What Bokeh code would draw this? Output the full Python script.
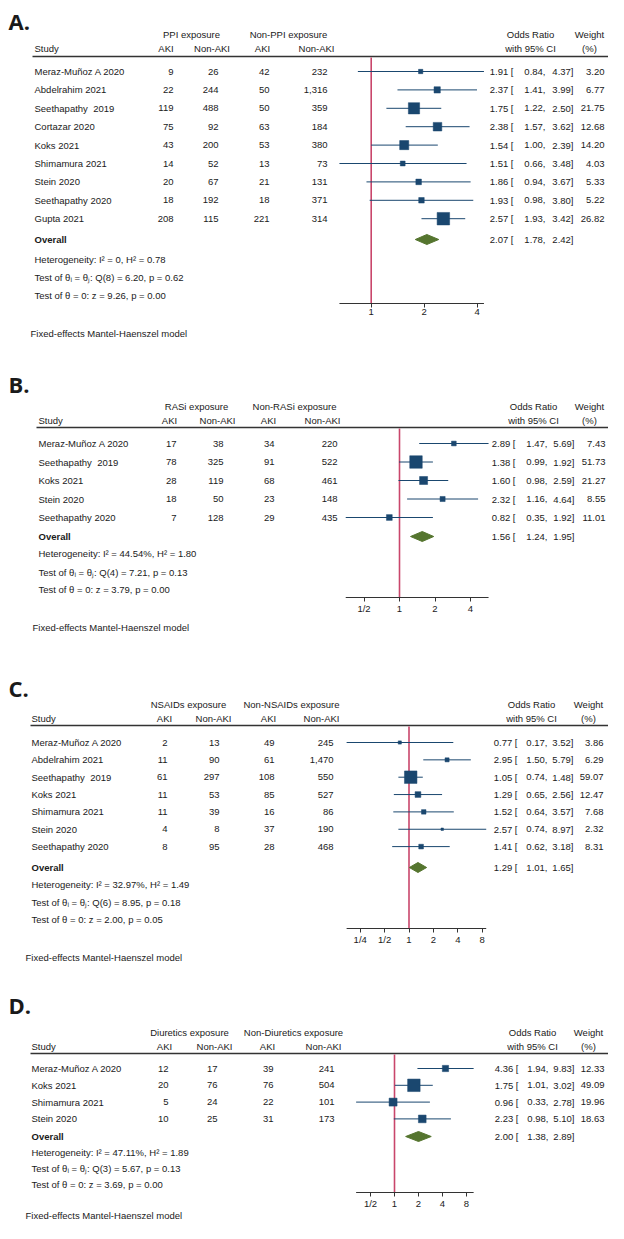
from bokeh.plotting import figure
from bokeh.models import Range1d, LogScale, LogAxis, FixedTicker
from bokeh.core.properties import value
from bokeh.embed import file_html
from bokeh.resources import INLINE
import math

# ---------------- DATA ----------------
# Panel A: PPI
a_study = ["Meraz-Muñoz A 2020", "Abdelrahim 2021", "Seethapathy\u00a0 2019", "Cortazar 2020", "Koks 2021",
           "Shimamura 2021", "Stein 2020", "Seethapathy 2020", "Gupta 2021"]
a_exp_aki = [9, 22, 119, 75, 43, 14, 20, 18, 208]
a_exp_non = [26, 244, 488, 92, 200, 52, 67, 192, 115]
a_non_aki = [42, 50, 50, 63, 53, 13, 21, 18, 221]
a_non_non = [232, 1316, 359, 184, 380, 73, 131, 371, 314]
a_or = [1.91, 2.37, 1.75, 2.38, 1.54, 1.51, 1.86, 1.93, 2.57]
a_lo = [0.84, 1.41, 1.22, 1.57, 1.00, 0.66, 0.94, 0.98, 1.93]
a_hi = [4.37, 3.99, 2.50, 3.62, 2.39, 3.48, 3.67, 3.80, 3.42]
a_wt = [3.20, 6.77, 21.75, 12.68, 14.20, 4.03, 5.33, 5.22, 26.82]
a_overall = [2.07, 1.78, 2.42]
a_het = ["Heterogeneity: I² = 0, H² = 0.78",
         "Test of θᵢ = θⱼ: Q(8) = 6.20, p = 0.62",
         "Test of θ = 0: z = 9.26, p = 0.00"]
a_ticks = [1, 2, 4]

# Panel B: RASi
b_study = ["Meraz-Muñoz A 2020", "Seethapathy\u00a0 2019", "Koks 2021", "Stein 2020", "Seethapathy 2020"]
b_exp_aki = [17, 78, 28, 18, 7]
b_exp_non = [38, 325, 119, 50, 128]
b_non_aki = [34, 91, 68, 23, 29]
b_non_non = [220, 522, 461, 148, 435]
b_or = [2.89, 1.38, 1.60, 2.32, 0.82]
b_lo = [1.47, 0.99, 0.98, 1.16, 0.35]
b_hi = [5.69, 1.92, 2.59, 4.64, 1.92]
b_wt = [7.43, 51.73, 21.27, 8.55, 11.01]
b_overall = [1.56, 1.24, 1.95]
b_het = ["Heterogeneity: I² = 44.54%, H² = 1.80",
         "Test of θᵢ = θⱼ: Q(4) = 7.21, p = 0.13",
         "Test of θ = 0: z = 3.79, p = 0.00"]
b_ticks = [0.5, 1, 2, 4]

# Panel C: NSAIDs
c_study = ["Meraz-Muñoz A 2020", "Abdelrahim 2021", "Seethapathy\u00a0 2019", "Koks 2021", "Shimamura 2021",
           "Stein 2020", "Seethapathy 2020"]
c_exp_aki = [2, 11, 61, 11, 11, 4, 8]
c_exp_non = [13, 90, 297, 53, 39, 8, 95]
c_non_aki = [49, 61, 108, 85, 16, 37, 28]
c_non_non = [245, 1470, 550, 527, 86, 190, 468]
c_or = [0.77, 2.95, 1.05, 1.29, 1.52, 2.57, 1.41]
c_lo = [0.17, 1.50, 0.74, 0.65, 0.64, 0.74, 0.62]
c_hi = [3.52, 5.79, 1.48, 2.56, 3.57, 8.97, 3.18]
c_wt = [3.86, 6.29, 59.07, 12.47, 7.68, 2.32, 8.31]
c_overall = [1.29, 1.01, 1.65]
c_het = ["Heterogeneity: I² = 32.97%, H² = 1.49",
         "Test of θᵢ = θⱼ: Q(6) = 8.95, p = 0.18",
         "Test of θ = 0: z = 2.00, p = 0.05"]
c_ticks = [0.25, 0.5, 1, 2, 4, 8]

# Panel D: Diuretics
d_study = ["Meraz-Muñoz A 2020", "Koks 2021", "Shimamura 2021", "Stein 2020"]
d_exp_aki = [12, 20, 5, 10]
d_exp_non = [17, 76, 24, 25]
d_non_aki = [39, 76, 22, 31]
d_non_non = [241, 504, 101, 173]
d_or = [4.36, 1.75, 0.96, 2.23]
d_lo = [1.94, 1.01, 0.33, 0.98]
d_hi = [9.83, 3.02, 2.78, 5.10]
d_wt = [12.33, 49.09, 19.96, 18.63]
d_overall = [2.00, 1.38, 2.89]
d_het = ["Heterogeneity: I² = 47.11%, H² = 1.89",
         "Test of θᵢ = θⱼ: Q(3) = 5.67, p = 0.13",
         "Test of θ = 0: z = 3.69, p = 0.00"]
d_ticks = [0.5, 1, 2, 4, 8]

tick_labels = {0.25: "1/4", 0.5: "1/2"}
footer = "Fixed-effects Mantel-Haenszel model"

# ---------------- STYLE / LAYOUT ----------------
FONT = "Liberation Sans"
FS = "9.5px"
TXT = "#1a1a1a"
NAVY = "#1a476f"
GREEN = "#55752f"
RED = "#c9466b"
W, H = 608, 1223

p = figure(width=W, height=H, output_backend="svg", toolbar_location=None,
           x_range=Range1d(0, W), y_range=Range1d(H, 0),
           x_axis_location=None, y_axis_location=None, min_border=0)
p.outline_line_color = None
p.xgrid.visible = False
p.ygrid.visible = False


def txt(xs, ys, texts, align="left", bold=False, size=FS, font=FONT):
    p.text(x=xs, y=ys, text=texts, text_align=align, text_baseline="middle",
           text_font=value(font), text_font_size=size, text_color=TXT,
           text_font_style="bold" if bold else "normal")


def panel(key, label, drug, study, ea, en, na, nn, orr, lo, hi, wt, ov, het, ticks, L):
    p1, d = L["p1"], L["d"]
    p.extra_x_ranges[key] = Range1d(2 ** ((0 - p1) / d), 2 ** ((W - p1) / d))
    p.extra_x_scales[key] = LogScale()

    txt([8], [L["label_y"]], [label], bold=True, size="22px", font="Open Sans")
    # headers
    txt(L["grp"], [L["grp_y"]] * 2, [f"{drug} exposure", f"Non-{drug} exposure"], align="center")
    txt([L["study_x"]], [L["sub_y"]], ["Study"])
    txt(L["sub"], [L["sub_y"]] * 4, ["AKI", "Non-AKI", "AKI", "Non-AKI"], align="center")
    txt([L["or_c"], L["or_c"]], [L["grp_y"], L["sub_y"]], ["Odds Ratio", "with 95% CI"], align="center")
    txt([L["w_c"], L["w_c"]], [L["grp_y"], L["sub_y"]], ["Weight", "(%)"], align="center")
    p.segment(x0=[L["line_x"][0]], x1=[L["line_x"][1]], y0=[L["line_y"]], y1=[L["line_y"]],
              line_color="#333333", line_width=1.3)

    n = len(study)
    ys = [L["row0"] + i * L["dy"] for i in range(n)]
    txt([L["study_x"]] * n, ys, study)
    for col, vals in zip(L["cols"], [ea, en, na, nn]):
        txt([col] * n, ys, [f"{v:,}" for v in vals], align="right")
    txt([L["orr"][0]] * n, ys, [f"{v:.2f} [" for v in orr], align="right")
    txt([L["orr"][1]] * n, ys, [f"{v:.2f}," for v in lo], align="right")
    txt([L["orr"][2]] * n, ys, [f"{v:.2f}]" for v in hi], align="right")
    txt([L["w_r"]] * n, ys, [f"{v:.2f}" for v in wt], align="right")

    # overall
    oy = L["overall_y"]
    txt([L["study_x"]], [oy], ["Overall"], bold=True)
    txt([L["orr"][0]], [oy], [f"{ov[0]:.2f} ["], align="right")
    txt([L["orr"][1]], [oy], [f"{ov[1]:.2f},"], align="right")
    txt([L["orr"][2]], [oy], [f"{ov[2]:.2f}]"], align="right")
    txt([L["study_x"]] * 3, L["het"], het)
    txt([L["foot_x"]], [L["foot_y"]], [footer])

    # forest
    ay = L["axis_y"]
    p.segment(x0=[1], x1=[1], y0=[L["line_y"] + 1], y1=[ay], x_range_name=key,
              line_color=RED, line_width=1.6)
    p.segment(x0=lo, x1=hi, y0=ys, y1=ys, x_range_name=key, line_color=NAVY, line_width=1)
    mx = max(wt)
    sizes = [12.5 * math.sqrt(w / mx) for w in wt]
    p.scatter(x=orr, y=ys, size=sizes, marker="square", x_range_name=key,
              fill_color=NAVY, line_color=NAVY, line_width=0.5)
    p.patch(x=[ov[1], ov[0], ov[2], ov[0]], y=[oy, oy - 5, oy, oy + 5], x_range_name=key,
            fill_color=GREEN, line_color=GREEN)
    p.segment(x0=[min(lo)], x1=[max(hi)], y0=[ay], y1=[ay], x_range_name=key,
              line_color="#333333", line_width=1)
    ax = LogAxis(x_range_name=key, fixed_location=ay, ticker=FixedTicker(ticks=ticks, minor_ticks=[]),
                 major_label_overrides={t: tick_labels[t] for t in ticks if t in tick_labels},
                 axis_line_color=None, major_tick_out=4, major_tick_in=0,
                 minor_tick_out=0, minor_tick_in=0, minor_tick_line_color=None,
                 major_tick_line_color="#333333", major_label_standoff=1,
                 major_label_text_font=FONT, major_label_text_font_size=FS,
                 major_label_text_color=TXT)
    p.add_layout(ax, "below")


LA = dict(label_y=20, grp_y=34, sub_y=48, line_y=56, line_x=(32, 608), row0=71, dy=18.4,
          overall_y=239, het=[259, 277, 295], axis_y=303, foot_y=333, foot_x=30, study_x=34,
          cols=[173, 218, 269, 327], grp=[191, 288], sub=[165.5, 211.5, 262, 316],
          orr=[513, 545, 573], w_r=604, or_c=530, w_c=589, p1=370.7, d=53)
LB = dict(label_y=383, grp_y=406, sub_y=420, line_y=427, line_x=(36, 608), row0=443, dy=18.5,
          overall_y=536, het=[553, 572, 589], axis_y=597, foot_y=627, foot_x=32, study_x=38,
          cols=[176, 223, 274, 337], grp=[196, 294], sub=[169, 217, 268, 322],
          orr=[515, 547, 574], w_r=605, or_c=533, w_c=589, p1=399, d=35.5)
LC = dict(label_y=687, grp_y=704, sub_y=718, line_y=725, line_x=(30, 608), row0=742, dy=17.35,
          overall_y=867, het=[884, 902, 919], axis_y=928, foot_y=957, foot_x=25, study_x=31,
          cols=[167, 219, 274, 333], grp=[188, 291], sub=[164, 213, 268, 321],
          orr=[517, 547, 573], w_r=603, or_c=531, w_c=588, p1=408.5, d=24.4)
LD = dict(label_y=1004, grp_y=1032, sub_y=1046, line_y=1053, line_x=(30, 608), row0=1068, dy=16.8,
          overall_y=1136, het=[1152, 1168, 1184], axis_y=1192, foot_y=1215, foot_x=25, study_x=31,
          cols=[168, 217, 273, 334], grp=[189, 293], sub=[164, 214, 267, 323],
          orr=[518, 548, 574], w_r=604, or_c=532, w_c=588, p1=394, d=24)

panel("A", "A.", "PPI", a_study, a_exp_aki, a_exp_non, a_non_aki, a_non_non, a_or, a_lo, a_hi, a_wt,
      a_overall, a_het, a_ticks, LA)
panel("B", "B.", "RASi", b_study, b_exp_aki, b_exp_non, b_non_aki, b_non_non, b_or, b_lo, b_hi, b_wt,
      b_overall, b_het, b_ticks, LB)
panel("C", "C.", "NSAIDs", c_study, c_exp_aki, c_exp_non, c_non_aki, c_non_non, c_or, c_lo, c_hi, c_wt,
      c_overall, c_het, c_ticks, LC)
panel("D", "D.", "Diuretics", d_study, d_exp_aki, d_exp_non, d_non_aki, d_non_non, d_or, d_lo, d_hi, d_wt,
      d_overall, d_het, d_ticks, LD)

open("out.html", "w").write(file_html(p, INLINE))
